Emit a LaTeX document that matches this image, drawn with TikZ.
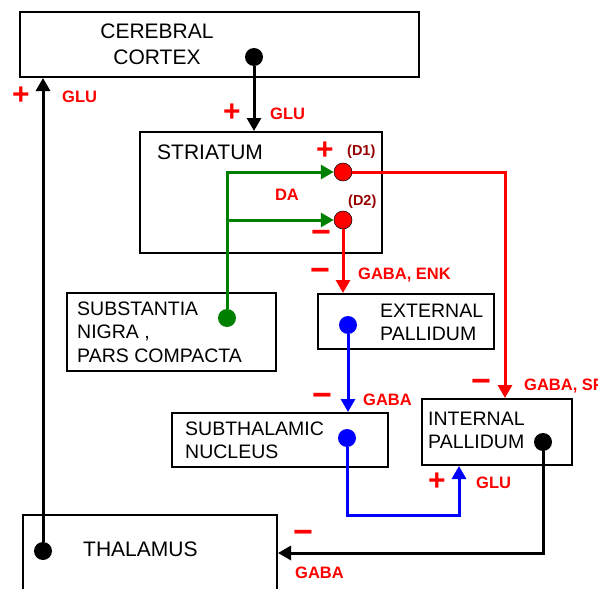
\documentclass[tikz,border=0pt]{standalone}
\usepackage{fontspec}
\setmainfont{Liberation Sans}
\usetikzlibrary{arrows.meta}
\definecolor{dagreen}{RGB}{0,128,0}
\definecolor{dred}{RGB}{150,0,0}

\begin{document}
\begin{tikzpicture}[x=1pt, y=-1pt,
  box/.style = {draw, line width=2pt, rectangle, inner sep=0pt},
  area/.style = {font=\fontsize{19.5}{23.5}\selectfont, align=left, anchor=west, inner sep=0pt},
  big/.style = {font=\fontsize{21}{26}\selectfont, inner sep=0pt},
  dot/.style = {circle, fill, inner sep=0pt, minimum size=18pt},
  tx/.style = {text=red, font=\bfseries\fontsize{16.5}{18}\selectfont, inner sep=0pt, anchor=west},
  dx/.style = {text=dred, font=\bfseries\fontsize{14.5}{16}\selectfont, inner sep=0pt, anchor=west},
  sg/.style = {text=red, font=\bfseries\fontsize{30}{30}\selectfont, inner sep=0pt},
  mn/.style = {text=red, font=\bfseries\fontsize{34}{34}\selectfont, inner sep=0pt},
  ax/.style = {line width=3pt, -{Triangle[length=13pt, width=14pt]}}]
\useasboundingbox (0,0) rectangle (598,589);
\clip (0,0) rectangle (598,589);

% boxes
\node[box, minimum width=399pt, minimum height=65pt] (cortex) at (219.5,44.5) {};
\node[box, minimum width=242pt, minimum height=121pt] (str) at (261,192.5) {};
\node[box, minimum width=209pt, minimum height=78pt] (sn) at (171.5,332) {};
\node[box, minimum width=176pt, minimum height=55pt] (ep) at (406,321.5) {};
\node[box, minimum width=216pt, minimum height=54pt] (stn) at (280,440) {};
\node[box, minimum width=150pt, minimum height=66pt] (ip) at (497,432) {};
\node[box, minimum width=254pt, minimum height=110pt] (thal) at (150,570) {};

% names
\node[big, align=center] (cortext) at (157,44) {CEREBRAL\\CORTEX};
\node[big, anchor=west] (strtext) at (157,152) {STRIATUM};
\node[area] (sntext) at (77,332) {SUBSTANTIA\\NIGRA ,\\PARS COMPACTA};
\node[area] (eptext) at (380,322.5) {EXTERNAL\\PALLIDUM};
\node[area] (stntext) at (185,440.5) {SUBTHALAMIC\\NUCLEUS};
\node[area] (iptext) at (428,430.5) {INTERNAL\\PALLIDUM};
\node[big, anchor=west] (thaltext) at (83,549) {THALAMUS};

% dots
\node[dot] (cdot) at (254,57) {};
\node[dot] (tdot) at (43,551) {};
\node[dot, fill=red, draw=black, line width=0.5pt] (d1) at (343,172) {};
\node[dot, fill=red, draw=black, line width=0.5pt] (d2) at (343,220) {};
\node[dot, fill=dagreen] (sndot) at (227,318) {};
\node[dot, fill=blue] (epdot) at (348,325) {};
\node[dot, fill=blue] (stndot) at (347,438) {};
\node[dot] (ipdot) at (543,442) {};
\coordinate (da2) at (sndot |- d2);

% connections
\draw[ax] (cdot) -- (cdot |- str.north);
\draw[ax] (tdot) -- (tdot |- cortex.south);
\draw[ax, dagreen] (sndot) |- (d1);
\draw[ax, dagreen] (da2) -- (d2);
\draw[ax, red] (d1) -| ([xshift=8pt]ip.north);
\draw[ax, red] (d2) -- (d2 |- ep.north);
\draw[ax, blue] (epdot) -- (epdot |- stn.north);
\draw[ax, blue] (stndot) -- ++(0,77) -| ([xshift=38pt]ip.south west);
\draw[ax] (ipdot) |- (thal.east |- 0,553);

% labels
\node[sg] (p1) at (21,96) {+};
\node[tx] (g1) at (62,97) {GLU};
\node[sg] (p2) at (232,113) {+};
\node[tx] (g2) at (270,114) {GLU};
\node[sg] (p3) at (325,151) {+};
\node[dx] (l1) at (347,152) {(D1)};
\node[tx, anchor=center] (da) at (287,195) {DA};
\node[dx] (l2) at (348,202) {(D2)};
\node[mn] (m1) at (321,237) {−};
\node[mn] (m2) at (320,275) {−};
\node[tx] (g3) at (358,275) {GABA, ENK};
\node[mn] (m3) at (322,400) {−};
\node[tx] (g4) at (363,400) {GABA};
\node[mn] (m4) at (481,386) {−};
\node[tx] (g5) at (524,386) {GABA, SP};
\node[sg] (p4) at (437,482) {+};
\node[tx] (g6) at (476,483) {GLU};
\node[mn] (m5) at (303,537) {−};
\node[tx] (g7) at (295,573) {GABA};
\end{tikzpicture}
\end{document}
